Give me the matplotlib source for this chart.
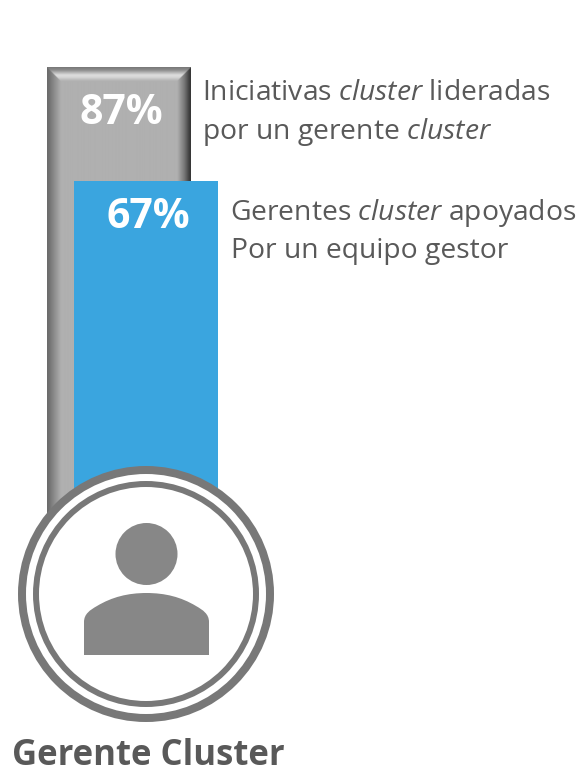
import numpy as np
import matplotlib
matplotlib.use("Agg")
import matplotlib.pyplot as plt
from matplotlib.patches import Circle, PathPatch
from matplotlib.path import Path

plt.rcParams['font.family'] = ['Open Sans', 'DejaVu Sans']
plt.rcParams['mathtext.fontset'] = 'custom'
plt.rcParams['mathtext.rm'] = 'Open Sans'
plt.rcParams['mathtext.it'] = 'Open Sans:italic'

values = [87, 67]
labels = ["87%", "67%"]
bar_colors = ["#B0B0B0", "#3AA5DF"]
captions = [
    ["Iniciativas $\\mathit{cluster}$ lideradas", "por un gerente $\\mathit{cluster}$"],
    ["Gerentes $\\mathit{cluster}$ apoyados", "Por un equipo gestor"],
]
name = "Gerente Cluster"

W, H = 580, 774
fig = plt.figure(figsize=(W / 100, H / 100), dpi=100)

# pixel helper, y measured from the top of the picture
def px_rect(x0, y0, x1, y1):
    return [x0 / W, 1 - y1 / H, (x1 - x0) / W, (y1 - y0) / H]

# bar axes: 0% sits at y=563 and 87% at y=67, so 5.7 px per percent
base_y = 563
top_y = 67
ax = fig.add_axes(px_rect(0, top_y, W, base_y))
ax.set_xlim(0, W)
ax.set_ylim(0, 87)
ax.axis("off")

lefts = [47.3, 74]
bar_w = [143.4, 144]
ax.bar(lefts[0], values[0], width=bar_w[0], align="edge", color=bar_colors[0], zorder=1)

# bevel of the grey bar
nx, ny = int(bar_w[0]) * 2, (base_y - top_y) * 2
xs = (np.arange(nx) + 0.5) / 2
ys = (np.arange(ny) + 0.5) / 2
xx, yy = np.meshgrid(xs, ys)
bev = 14.0
dl = xx
dr = bar_w[0] - xx
dt = yy
mid = 176.0
img = np.full(xx.shape, mid)
left_g = np.interp(dl, [0, 2, bev], [105, 112, mid])
right_g = np.interp(dr, [0, 2, 7, bev], [50, 62, 120, mid])
top_g = np.interp(dt, [0, 3, 8, 10, bev], [118, 140, 222, 215, mid])
m = dl < bev
img[m] = left_g[m]
m = dr < bev
img[m] = right_g[m]
m = (dt < bev) & (dt <= dl) & (dt <= dr)
img[m] = top_g[m]
ax.imshow(img, cmap="gray", vmin=0, vmax=255, aspect="auto", interpolation="bilinear",
          extent=[lefts[0], lefts[0] + bar_w[0], 0, values[0]], zorder=1.5)

ax.bar(lefts[1], values[1], width=bar_w[1], align="edge", color=bar_colors[1], zorder=2)
ax.set_xlim(0, W)
ax.set_ylim(0, 87)

# overlay in picture pixels
ov = fig.add_axes([0, 0, 1, 1])
ov.set_xlim(0, W)
ov.set_ylim(H, 0)
ov.axis("off")
ov.patch.set_alpha(0)

ov.add_patch(Circle((146, 594), 124, fc="white", ec="#787878", lw=8 * 0.72))
ov.add_patch(Circle((146, 594), 110, fc="none", ec="#787878", lw=6 * 0.72))

ov.add_patch(Circle((146.5, 554), 31, fc="#878787", ec="none"))
body = Path(
    [(84, 655), (84, 622), (84, 614), (90, 610), (97, 606),
     (112, 597), (128, 593), (146.5, 593),
     (165, 593), (181, 597), (196, 606),
     (203, 610), (209, 614), (209, 622), (209, 655), (84, 655)],
    [Path.MOVETO, Path.LINETO, Path.CURVE4, Path.CURVE4, Path.CURVE4,
     Path.CURVE4, Path.CURVE4, Path.CURVE4,
     Path.CURVE4, Path.CURVE4, Path.CURVE4,
     Path.CURVE4, Path.CURVE4, Path.CURVE4, Path.LINETO, Path.CLOSEPOLY],
)
ov.add_patch(PathPatch(body, fc="#878787", ec="none"))

ov.text(121, 113, labels[0], color="white", fontsize=29.5, fontweight="bold", ha="center", va="center")
ov.text(148, 218, labels[1], color="white", fontsize=29.5, fontweight="bold", ha="center", va="center")

txt = "#595959"
ov.text(202, 93, captions[0][0], color=txt, fontsize=20.3, va="center")
ov.text(202, 132, captions[0][1], color=txt, fontsize=20.3, va="center")
ov.text(230, 213, captions[1][0], color=txt, fontsize=20.3, va="center")
ov.text(231, 251, captions[1][1], color=txt, fontsize=20.3, va="center")

ov.text(148.5, 765, name, color="#595959", fontsize=25, fontweight="bold", ha="center", va="baseline")

fig.savefig("out.png", dpi=100)
